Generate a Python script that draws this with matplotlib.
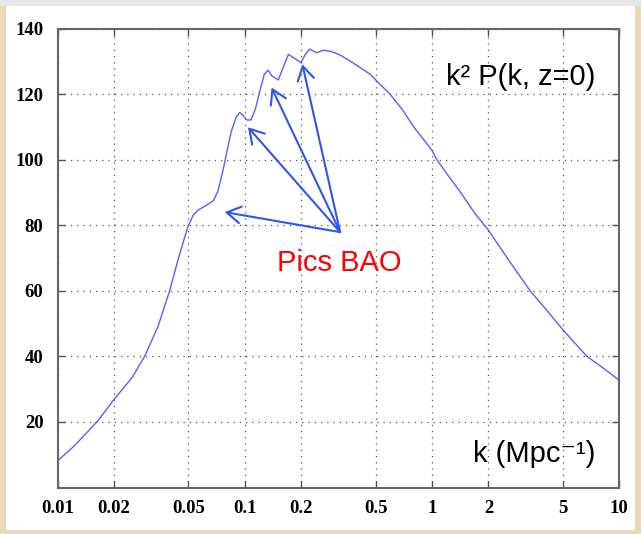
# ──────────────────────────────────────────────────────────────────────────────
# k^2 P(k, z=0) with BAO wiggles (matlab-style log plot)
# ──────────────────────────────────────────────────────────────────────────────

import matplotlib
matplotlib.use("Agg")
import matplotlib.pyplot as plt
from matplotlib.patches import Rectangle


# ── Data ──────────────────────────────────────────────────────────────────────

K_VALUES = [0.0100, 0.0100, 0.0123, 0.0164, 0.0200, 0.0250, 0.0292, 0.0344,
            0.0397, 0.0440, 0.0470, 0.0498, 0.0530, 0.0563, 0.0620, 0.0680,
            0.0720, 0.0765, 0.0810, 0.0850, 0.0900, 0.0940, 0.0980, 0.1025,
            0.1080, 0.1140, 0.1205, 0.1270, 0.1330, 0.1400, 0.1510, 0.1600,
            0.1710, 0.1820, 0.2000, 0.2100, 0.2220, 0.2420, 0.2630, 0.2900,
            0.3230, 0.3600, 0.4130, 0.4660, 0.5270, 0.5960, 0.7000, 0.8000,
            0.9000, 1.0000, 1.0600, 1.2000, 1.4000, 1.7000, 2.0000, 2.5000,
            3.3400, 4.0000, 5.0000, 6.7100, 8.0000, 10.000]
K2P_VALUES = [0.0, 8.1, 12.7, 20.3, 26.8, 33.5, 40.0, 49.1,
              60.0, 69.4, 75.0, 79.7, 83.0, 84.6, 86.0, 87.5,
              90.5, 96.7, 103.5, 108.9, 113.0, 114.4, 113.5, 112.1,
              112.1, 115.5, 121.0, 126.0, 127.3, 125.5, 124.3, 128.0,
              132.1, 131.1, 129.6, 132.0, 133.7, 132.6, 133.4, 133.0,
              131.9, 130.3, 128.1, 126.1, 123.0, 120.0, 115.0, 109.9,
              106.2, 102.8, 100.0, 95.7, 90.5, 83.5, 78.5, 70.3,
              60.0, 54.8, 48.1, 40.0, 36.9, 32.7]

# BAO arrows: common tail, and one head per peak
ARROW_TAIL = (0.323, 77.9)
ARROW_HEADS_K = [0.0781, 0.104, 0.139, 0.203]
ARROW_HEADS_Y = [84.0, 109.9, 122.0, 129.1]

X_TICKS = [0.01, 0.02, 0.05, 0.1, 0.2, 0.5, 1, 2, 5, 10]
X_TICK_LABELS = ["0.01", "0.02", "0.05", "0.1", "0.2", "0.5", "1", "2", "5", "10"]
Y_TICKS = [20, 40, 60, 80, 100, 120, 140]


# ── Style ─────────────────────────────────────────────────────────────────────

CURVE_COLOR = "#5c5cff"
ARROW_COLOR = "#2f55ea"
BEIGE = "#ead9b6"
TOP_GRAY = "#e5e9eb"

plt.rcParams["font.family"] = ["Liberation Sans", "DejaVu Sans"]


# ── Figure ────────────────────────────────────────────────────────────────────

fig = plt.figure(figsize=(6.41, 5.34), dpi=100)
fig.patch.set_facecolor("white")

# slide-like frame around the plot
W, H = 641, 534
for (x0, y0, w, h, c) in [(0, 0, 6, H, BEIGE), (W - 6, 0, 6, H, BEIGE),
                          (0, 0, W, 4, BEIGE), (0, H - 6, W, 6, TOP_GRAY)]:
    fig.add_artist(Rectangle((x0 / W, y0 / H), w / W, h / H,
                             transform=fig.transFigure, color=c, lw=0, zorder=-10))

ax = fig.add_axes([57.5 / W, (H - 487.5) / H, 561.8 / W, 459 / H])

ax.plot(K_VALUES, K2P_VALUES, color=CURVE_COLOR, lw=1.0)

ax.set_xscale("log")
ax.set_xlim(0.01, 10)
ax.set_ylim(0, 140)
ax.set_xticks(X_TICKS)
ax.set_xticklabels(X_TICK_LABELS)
ax.set_yticks(Y_TICKS)
ax.minorticks_off()

ax.grid(True, which="major", linestyle=(0, (1, 4)), color="#555555", lw=0.9)
ax.tick_params(which="both", direction="in", top=True, right=True,
               length=5, width=1.0, color="#555555")
ax.tick_params(axis="x", pad=9)
ax.tick_params(axis="y", pad=10)
for lab in ax.get_xticklabels() + ax.get_yticklabels():
    lab.set_family("Liberation Serif")
    lab.set_fontweight("bold")
    lab.set_fontsize(13.5)
for sp in ax.spines.values():
    sp.set_color("#666666")
    sp.set_linewidth(1.5)


# ── Annotations ───────────────────────────────────────────────────────────────

for hk, hy in zip(ARROW_HEADS_K, ARROW_HEADS_Y):
    ax.annotate("", xy=(hk, hy), xytext=ARROW_TAIL,
                arrowprops=dict(arrowstyle="->,head_length=0.5,head_width=0.3",
                                color=ARROW_COLOR, lw=1.5, mutation_scale=20,
                                shrinkA=0, shrinkB=0))

ax.text(0.5023, 0.4717, "Pics BAO", transform=ax.transAxes, color="red",
        fontsize=21, ha="center", va="baseline")
ax.text(0.9567, 0.877, "k² P(k, z=0)", transform=ax.transAxes, color="black",
        fontsize=21, ha="right", va="baseline")
ax.text(0.9567, 0.056, "k (Mpc⁻¹)", transform=ax.transAxes, color="black",
        fontsize=21, ha="right", va="baseline")

fig.savefig("out.png", dpi=100)
print("Plot saved -> out.png")
